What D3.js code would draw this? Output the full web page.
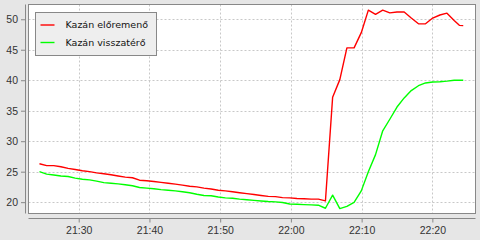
<!DOCTYPE html>
<html>
<head>
  <style>
    body{
      margin:0;
      background:#e6e6e6;
      font-family: "DejaVu Sans", sans-serif;
    }
    .tick-label{
      fill:#333;
      font-size:10.5px;
    }
    .legend-label{
      fill:#111;
      font-size:9.5px;
    }
  </style>
  <script src="https://d3js.org/d3.v7.min.js"></script>
</head>
<body>
<div class="chart-container"></div>
<script>
const times = [
  '21:24:27','21:25:28','21:26:28','21:27:29','21:28:30','21:29:30','21:30:31','21:31:32','21:32:32','21:33:33',
  '21:34:34','21:35:34','21:36:35','21:37:36','21:38:36','21:39:37','21:40:38','21:41:38','21:42:39','21:43:40',
  '21:44:40','21:45:41','21:46:42','21:47:42','21:48:43','21:49:44','21:50:44','21:51:45','21:52:45','21:53:46',
  '21:54:47','21:55:47','21:56:48','21:57:49','21:58:49','21:59:50','22:00:51','22:01:51','22:02:52','22:03:53',
  '22:04:53','22:05:54','22:06:55','22:07:55','22:08:56','22:09:57','22:10:57','22:11:58','22:12:59','22:13:59',
  '22:15:00','22:16:01','22:17:01','22:18:02','22:19:02','22:20:03','22:21:04','22:22:04','22:23:05','22:23:49',
  '22:24:22'
];

const supplyTemp = [
  26.3,26.0,26.0,25.8,25.55,25.35,25.15,25.0,24.8,24.65,
  24.5,24.3,24.1,24.0,23.6,23.5,23.4,23.25,23.1,22.95,
  22.8,22.6,22.5,22.3,22.15,21.95,21.85,21.7,21.55,21.4,
  21.25,21.1,20.95,20.9,20.75,20.7,20.6,20.55,20.5,20.5,
  20.2,37.2,40.1,45.3,45.3,47.8,51.5,50.8,51.5,51.05,
  51.2,51.2,50.2,49.25,49.25,50.2,50.7,51.0,49.8,49.0,
  48.95
];

const returnTemp = [
  25.0,24.6,24.45,24.3,24.2,23.95,23.75,23.65,23.45,23.2,
  23.1,23.0,22.85,22.7,22.4,22.3,22.2,22.05,21.95,21.85,
  21.7,21.55,21.3,21.1,21.05,20.85,20.7,20.65,20.5,20.4,
  20.3,20.2,20.1,20.05,19.95,19.7,19.65,19.6,19.55,19.5,
  19.0,21.15,18.95,19.3,19.95,21.85,25.0,27.8,31.7,33.6,
  35.6,37.1,38.3,39.1,39.55,39.7,39.75,39.85,40.0,40.0,
  40.0
];

const seriesNames = ['Kazán előremenő', 'Kazán visszatérő'];
const seriesColors = ['#ff0000', '#00ff00'];
const yTicks = [20, 25, 30, 35, 40, 45, 50];
const xTickLabels = ['21:30', '21:40', '21:50', '22:00', '22:10', '22:20'];
const xDomain = ['21:22:54', '22:26:06'];
const yDomain = [18.14, 52.42];

const width = 480;
const height = 240;
const plot = {left: 28.5, top: 4.5, right: 475.5, bottom: 213.5};

const parseTime = d3.timeParse('%H:%M:%S');
const parseTick = d3.timeParse('%H:%M');

const svg = d3.select('.chart-container')
  .append('svg')
  .attr('width', width)
  .attr('height', height);

svg.append('rect')
  .attr('width', width)
  .attr('height', height)
  .attr('fill', '#e6e6e6');

const x = d3.scaleTime()
  .domain(xDomain.map(parseTime))
  .range([plot.left, plot.right]);

const y = d3.scaleLinear()
  .domain(yDomain)
  .range([plot.bottom, plot.top]);

// plot background
svg.append('rect')
  .attr('x', plot.left)
  .attr('y', plot.top)
  .attr('width', plot.right - plot.left)
  .attr('height', plot.bottom - plot.top)
  .attr('fill', '#fff');

const xTickDates = xTickLabels.map(parseTick);

// grid
svg.append('g')
  .selectAll('line')
  .data(yTicks)
  .join('line')
  .attr('x1', plot.left)
  .attr('x2', plot.right)
  .attr('y1', d => Math.round(y(d)) + 0.5)
  .attr('y2', d => Math.round(y(d)) + 0.5)
  .attr('stroke', '#c8c8c8')
  .attr('stroke-dasharray', '2,2');

svg.append('g')
  .selectAll('line')
  .data(xTickDates)
  .join('line')
  .attr('x1', d => Math.round(x(d)) + 0.5)
  .attr('x2', d => Math.round(x(d)) + 0.5)
  .attr('y1', plot.top)
  .attr('y2', plot.bottom)
  .attr('stroke', '#c8c8c8')
  .attr('stroke-dasharray', '2,2');

// series
const series = [supplyTemp, returnTemp];
const line = d3.line()
  .x((d, i) => x(parseTime(times[i])))
  .y(d => y(d));

svg.append('g')
  .selectAll('path')
  .data(series)
  .join('path')
  .attr('d', d => line(d))
  .attr('fill', 'none')
  .attr('stroke', (d, i) => seriesColors[i])
  .attr('stroke-width', 1.4)
  .attr('stroke-linejoin', 'round');

// plot outline
svg.append('rect')
  .attr('x', plot.left)
  .attr('y', plot.top)
  .attr('width', plot.right - plot.left)
  .attr('height', plot.bottom - plot.top)
  .attr('fill', 'none')
  .attr('stroke', '#888');

// y axis, offset from the plot
const yAxis = d3.axisLeft(y)
  .tickValues(yTicks)
  .tickSize(4)
  .tickPadding(3);

svg.append('g')
  .attr('transform', 'translate(25,0)')
  .call(yAxis)
  .call(g => g.select('.domain').attr('stroke', '#888').attr('d', `M0.5,${plot.top}V${plot.bottom}`))
  .call(g => g.selectAll('.tick line').attr('stroke', '#888'))
  .call(g => g.selectAll('.tick text').attr('class', 'tick-label').attr('font-family', null).attr('font-size', null));

// x axis, offset below the plot
const xAxis = d3.axisBottom(x)
  .tickValues(xTickDates)
  .tickFormat(d3.timeFormat('%H:%M'))
  .tickSize(4)
  .tickPadding(4);

svg.append('g')
  .attr('transform', 'translate(0,218.5)')
  .call(xAxis)
  .call(g => g.select('.domain').attr('stroke', '#888').attr('d', `M${plot.left},0H${plot.right}`))
  .call(g => g.selectAll('.tick line').attr('stroke', '#888'))
  .call(g => g.selectAll('.tick text').attr('class', 'tick-label').attr('font-family', null).attr('font-size', null));

// legend
const legend = svg.append('g')
  .attr('transform', 'translate(35.5,12.5)');

legend.append('rect')
  .attr('width', 121)
  .attr('height', 43)
  .attr('fill', '#eeeeee')
  .attr('stroke', '#888');

const legendItems = legend.selectAll('g')
  .data(seriesNames)
  .join('g')
  .attr('transform', (d, i) => `translate(0, ${12.5 + i * 17.5})`);

legendItems.append('line')
  .attr('x1', 5)
  .attr('x2', 19)
  .attr('stroke', (d, i) => seriesColors[i])
  .attr('stroke-width', 1.4);

legendItems.append('text')
  .attr('class', 'legend-label')
  .attr('x', 30)
  .attr('dy', '0.35em')
  .text(d => d);
</script>
</body>
</html>
